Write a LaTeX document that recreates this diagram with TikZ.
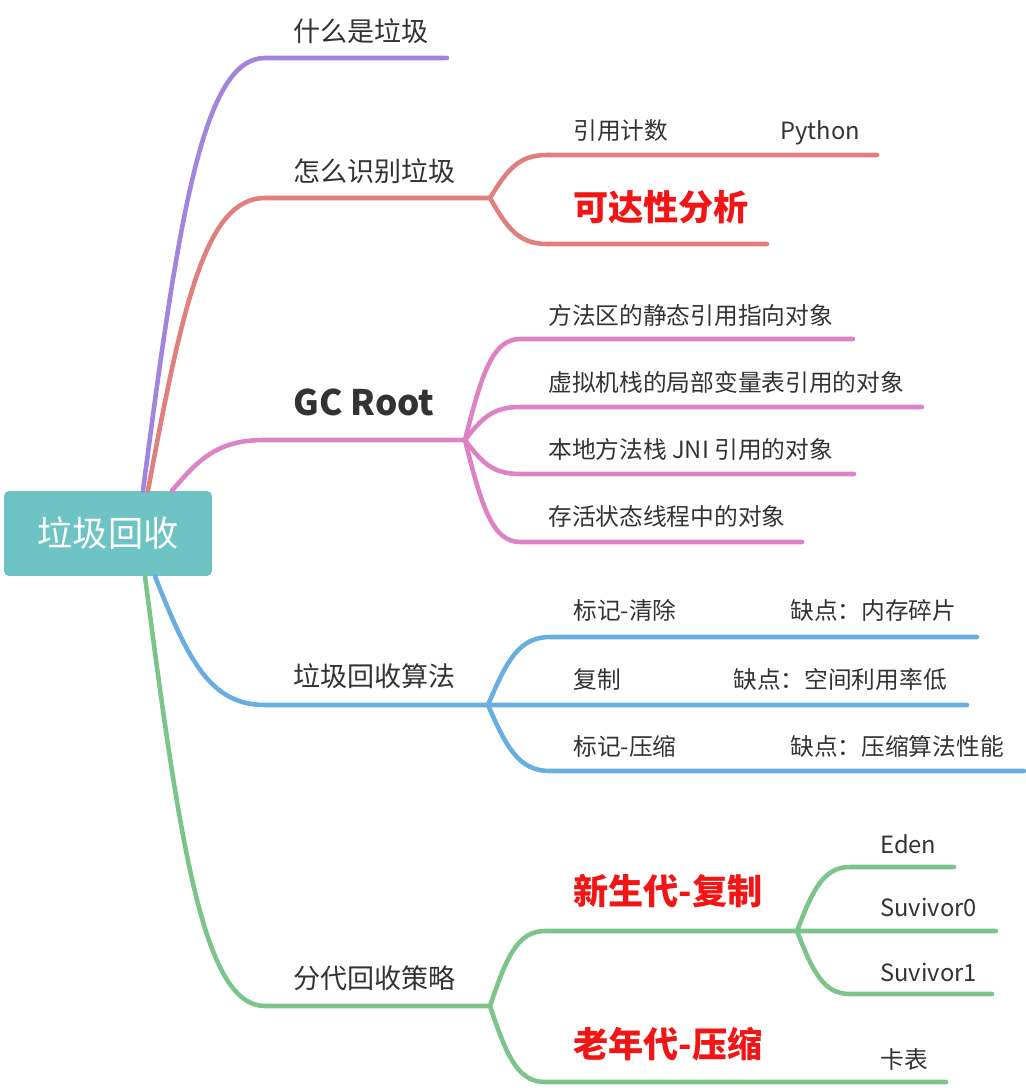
\documentclass[tikz,border=0pt]{standalone}
\usepackage{fontspec}
\setmainfont{Noto Sans CJK SC}
\usepackage{xcolor}
\usetikzlibrary{calc,positioning}
\definecolor{rootfill}{HTML}{6EC4C4}
\definecolor{purp}{HTML}{A184DC}
\definecolor{salmon}{HTML}{E0807E}
\definecolor{pinkc}{HTML}{DD82C6}
\definecolor{bluec}{HTML}{68AEE0}
\definecolor{greenc}{HTML}{7CC48A}
\definecolor{hotred}{HTML}{F21515}
\definecolor{txt}{HTML}{333333}
\tikzset{
  line/.style={line width=2.6pt,line cap=round,line join=round},
  branch/.style={to path={let \p1=(\tikztostart),\p2=(\tikztotarget) in
    .. controls ({\x1+0.3*(\x2-\x1)},{\y1+0.65*(\y2-\y1)}) and ({\x1+0.5*(\x2-\x1)},{\y2}) .. (\tikztotarget)}},
  lbl/.style={anchor=west,inner sep=0pt,text height=1.1em,text depth=0em,text=txt},
  topic/.style={lbl,font=\fontsize{15.4}{18}\selectfont},
  sub/.style={lbl,font=\fontsize{13.5}{16}\selectfont},
  hot/.style={lbl,text=hotred,font=\fontsize{20}{24}\selectfont\bfseries},
  rootbox/.style={fill=rootfill,rounded corners=0.1cm,minimum width=4.16cm,minimum height=1.7cm,
    inner sep=0pt,text=white,font=\fontsize{20}{24}\selectfont}
}
\begin{document}
\begin{tikzpicture}[x=0.02cm,y=-0.02cm]
\useasboundingbox (0,0) rectangle (1026,1088);

\node[rootbox] (root) at (108,533.5) {垃圾回收};

% first level
\node[topic] (what) at (293,32) {什么是垃圾}; %label
\node[topic] (ident) at (293,172) {怎么识别垃圾}; %label
\node[hot,text=txt] (gcroot) at (293,406) {GC Root}; %label
\node[topic] (algo) at (293,677) {垃圾回收算法}; %label
\node[topic] (gen) at (293,979) {分代回收策略}; %label

% second level
\node[sub] (refc) at (573,130) {引用计数};
\node[sub] (python) at (780,130) {Python};
\node[hot] (reach) at (573,211) {可达性分析};

\node[sub] (gc1) at (548,315) {方法区的静态引用指向对象};
\node[sub] (gc2) at (548,382) {虚拟机栈的局部变量表引用的对象};
\node[sub] (gc3) at (548,449) {本地方法栈 JNI 引用的对象};
\node[sub] (gc4) at (548,516) {存活状态线程中的对象};

\node[sub] (sweep) at (573,610) {标记-清除};
\node[sub] (sweepc) at (790,610) {缺点：内存碎片};
\node[sub] (copy) at (573,679) {复制};
\node[sub] (copyc) at (733,679) {缺点：空间利用率低};
\node[sub] (compact) at (573,746) {标记-压缩};
\node[sub] (compactc) at (790,746) {缺点：压缩算法性能};

\node[hot] (young) at (573,895) {新生代-复制};
\node[hot] (old) at (573,1048) {老年代-压缩};
\node[sub] (cardt) at (880,1059) {卡表};

% third level
\node[sub] (eden) at (880,844) {Eden};
\node[sub] (surv0) at (880,907) {Suvivor0};
\node[sub] (surv1) at (880,972) {Suvivor1};

% start and end points of the underlines
\coordinate (r-pu) at ($(root.north)+(35,0)$);
\coordinate (r-re) at ($(root.north)+(40,0)$);
\coordinate (r-pi) at ($(root.north)+(64,0)$);
\coordinate (r-bl) at ($(root.south)+(47,0)$);
\coordinate (r-gr) at ($(root.south)+(37,0)$);

\coordinate (what-a) at (265,58);   \coordinate (what-b) at (447,58);
\coordinate (ident-a) at (265,198); \coordinate (ident-b) at (490,198);
\coordinate (gc-a) at (265,440);    \coordinate (gc-b) at (465,440);
\coordinate (algo-a) at (265,705);  \coordinate (algo-b) at (488,705);
\coordinate (gen-a) at (265,1006);  \coordinate (gen-b) at (490,1006);

\coordinate (refc-a) at (547,155);  \coordinate (refc-b) at (877,155);
\coordinate (reach-a) at (547,244); \coordinate (reach-b) at (767,244);

\coordinate (gc1-a) at (520,339); \coordinate (gc1-b) at (853,339);
\coordinate (gc2-a) at (520,407); \coordinate (gc2-b) at (922,407);
\coordinate (gc3-a) at (520,474); \coordinate (gc3-b) at (854,474);
\coordinate (gc4-a) at (520,542); \coordinate (gc4-b) at (802,542);

\coordinate (sweep-a) at (550,637);   \coordinate (sweep-b) at (977,637);
\coordinate (copy-b) at (967,705);
\coordinate (compact-a) at (550,771); \coordinate (compact-b) at (1024,771);

\coordinate (young-a) at (545,931); \coordinate (young-b) at (797,931);
\coordinate (old-a) at (545,1082);  \coordinate (old-b) at (946,1082);
\coordinate (eden-a) at (850,867);  \coordinate (eden-b) at (954,867);
\coordinate (surv0-b) at (996,931);
\coordinate (surv1-a) at (850,994); \coordinate (surv1-b) at (992,994);

% purple
\draw[line,purp] (r-pu) to[branch] (what-a) -- (what-b);
% red
\draw[line,salmon] (r-re) to[branch] (ident-a) -- (ident-b);
\draw[line,salmon] (ident-b) to[branch] (refc-a) -- (refc-b);
\draw[line,salmon] (ident-b) to[branch] (reach-a) -- (reach-b);
% pink
\draw[line,pinkc] (r-pi) to[branch] (gc-a) -- (gc-b);
\foreach \k in {1,...,4}
  \draw[line,pinkc] (gc-b) to[branch] (gc\k-a) -- (gc\k-b);
% blue
\draw[line,bluec] (r-bl) to[branch] (algo-a) -- (algo-b) -- (copy-b);
\draw[line,bluec] (algo-b) to[branch] (sweep-a) -- (sweep-b);
\draw[line,bluec] (algo-b) to[branch] (compact-a) -- (compact-b);
% green
\draw[line,greenc] (r-gr) to[branch] (gen-a) -- (gen-b);
\draw[line,greenc] (gen-b) to[branch] (young-a) -- (young-b) -- (surv0-b);
\draw[line,greenc] (gen-b) to[branch] (old-a) -- (old-b);
\draw[line,greenc] (young-b) to[branch] (eden-a) -- (eden-b);
\draw[line,greenc] (young-b) to[branch] (surv1-a) -- (surv1-b);
\end{tikzpicture}
\end{document}
